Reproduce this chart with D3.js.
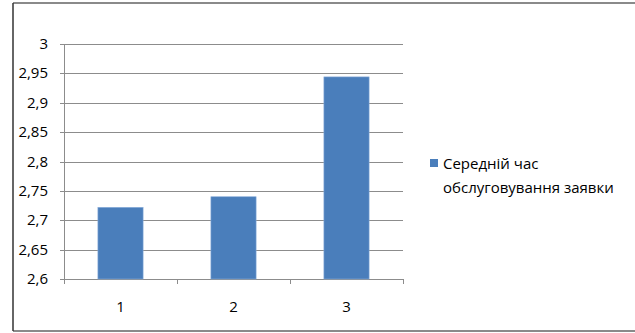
<!DOCTYPE html>
<html>
<head>
<meta charset="utf-8">
<style>
  body { margin: 0; background: #fff; }
  svg text { font-family: "Open Sans", "Noto Sans", sans-serif; fill: #000; }
</style>
</head>
<body>
<svg width="635" height="333"></svg>
<script src="https://d3js.org/d3.v7.min.js"></script>
<script>
// data
var categories = ["1", "2", "3"];
var values = [2.722, 2.740, 2.944];
var yTicks = [2.6, 2.65, 2.7, 2.75, 2.8, 2.85, 2.9, 2.95, 3];
var seriesName = ["Середній час", "обслуговування заявки"];

var svg = d3.select("svg");
var barColor = "#4a7ebb";
var gridColor = "#8c8c8c";

// chart area frame
svg.append("line").attr("x1", 13).attr("x2", 635).attr("y1", 3).attr("y2", 3)
    .attr("stroke", "#8a8a8a").attr("stroke-width", 2);
svg.append("line").attr("x1", 13).attr("x2", 635).attr("y1", 331).attr("y2", 331)
    .attr("stroke", "#8a8a8a").attr("stroke-width", 2);
svg.append("line").attr("x1", 13).attr("x2", 13).attr("y1", 3).attr("y2", 331)
    .attr("stroke", "#333").attr("stroke-width", 1.5);

var x = d3.scaleBand()
    .domain(categories)
    .range([64, 403])
    .paddingInner(0.6)
    .paddingOuter(0.3);

var xb = d3.scaleBand().domain(categories).range([64, 403]);

var y = d3.scaleLinear()
    .domain([2.6, 3])
    .range([279, 44]);

// gridlines
svg.append("g").selectAll("line")
  .data(yTicks)
  .enter().append("line")
    .attr("x1", 60)
    .attr("x2", 403)
    .attr("y1", function(d) { return Math.round(y(d)) + 0.5; })
    .attr("y2", function(d) { return Math.round(y(d)) + 0.5; })
    .attr("stroke", gridColor)
    .attr("stroke-width", 1);

// y axis line
svg.append("line").attr("x1", 64.5).attr("x2", 64.5).attr("y1", y(3)).attr("y2", 284)
    .attr("stroke", gridColor);

// category ticks
svg.append("g").selectAll("line")
  .data(categories)
  .enter().append("line")
    .attr("x1", function(d) { return Math.round(xb(d) + xb.bandwidth()) + 0.5; })
    .attr("x2", function(d) { return Math.round(xb(d) + xb.bandwidth()) + 0.5; })
    .attr("y1", 279)
    .attr("y2", 284)
    .attr("stroke", gridColor);

// y labels
svg.append("g").selectAll("text")
  .data(yTicks)
  .enter().append("text")
    .attr("x", 48)
    .attr("y", function(d) { return y(d) + 5; })
    .attr("text-anchor", "end")
    .attr("font-size", 15)
    .text(function(d) { return String(d).replace(".", ","); });

// bars
svg.append("g").selectAll("rect")
  .data(values)
  .enter().append("rect")
    .attr("x", function(d, i) { return x(categories[i]); })
    .attr("width", x.bandwidth())
    .attr("y", function(d) { return y(d); })
    .attr("height", function(d) { return y(2.6) - y(d); })
    .attr("fill", barColor)
    .attr("stroke", "#8aaedb")
    .attr("stroke-width", 0.6);

// x labels
svg.append("g").selectAll("text")
  .data(categories)
  .enter().append("text")
    .attr("x", function(d) { return xb(d) + xb.bandwidth() / 2; })
    .attr("y", 312)
    .attr("text-anchor", "middle")
    .attr("font-size", 15)
    .text(function(d) { return d; });

// legend
svg.append("rect")
    .attr("x", 430).attr("y", 159).attr("width", 8).attr("height", 8)
    .attr("fill", barColor);
svg.append("g").selectAll("text")
  .data(seriesName)
  .enter().append("text")
    .attr("x", 443)
    .attr("y", function(d, i) { return 169 + i * 24; })
    .attr("font-size", 15)
    .text(function(d) { return d; });
</script>
</body>
</html>
